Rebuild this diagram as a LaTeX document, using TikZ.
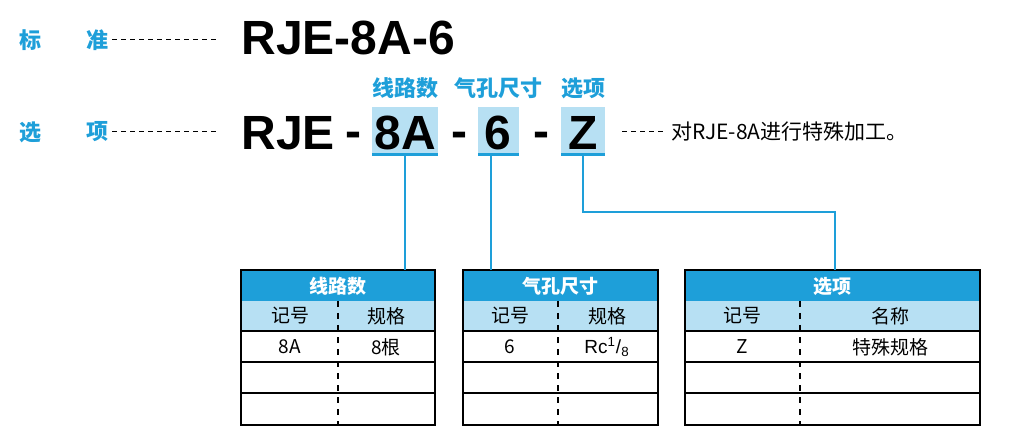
\documentclass[tikz,border=0pt]{standalone}
\usepackage{fontspec}
\setmainfont{Liberation Sans}
\newfontfamily\cjk{Noto Sans CJK SC}
\definecolor{skyblue}{HTML}{1E9FD9}
\definecolor{paleblue}{HTML}{B7E0F3}
\tikzset{
  lbl/.style={font=\cjk\bfseries\fontsize{11}{13}\selectfont,text=skyblue,inner sep=0pt},
  code/.style={font=\bfseries\fontsize{24}{27}\selectfont,inner sep=0pt},
  cell/.style={font=\cjk\fontsize{9.5}{11}\selectfont,inner sep=0pt},
  link/.style={skyblue,line width=1.2pt},
  lead/.style={dash pattern=on 2.5pt off 2pt,line width=0.5pt}
}
% one table: x0, x1, divider, name
\newcommand{\spectable}[5]{%
  \fill[skyblue] (#1,270) rectangle (#2,301);
  \fill[paleblue] (#1,301) rectangle (#2,331);
  \foreach \y in {331,362,393}
    \draw[line width=0.6pt] (#1,\y) -- (#2,\y);
  \draw[line width=0.8pt] (#1,270) rectangle (#2,425);
  \draw[dashed,line width=0.6pt] (#3,301) -- (#3,425);
  \node[cell,font=\cjk\bfseries\fontsize{9.5}{11}\selectfont,text=white] (#4) at ({(#1+#2)/2},286) {#5};
}
\begin{document}
\begin{tikzpicture}[x=0.5pt,y=-0.5pt]
\useasboundingbox (0,0) rectangle (1021,432);
% standard line
\node[lbl] (std1) at (30,40) {标};
\node[lbl] (std2) at (97,40) {准};
\draw[lead] (112,40) -- (218,40);
\node[code,anchor=west] (std) at (241,38) {RJE-8A-6};
% option line
\node[lbl] (opt1) at (30,132) {选};
\node[lbl] (opt2) at (97,132) {项};
\draw[lead] (112,132) -- (218,132);
\node[code,anchor=west] (rje) at (241,133) {RJE};
\node[code] (d1) at (353,140) {-};
\fill[paleblue] (372,107) rectangle (438,155);
\draw[skyblue,line width=1.5pt] (372,155) -- (438,155);
\node[code] (wires) at (405,133) {8A};
\node[code] (d2) at (459,140) {-};
\fill[paleblue] (478,107) rectangle (519,155);
\draw[skyblue,line width=1.5pt] (478,155) -- (519,155);
\node[code] (port) at (498,133) {6};
\node[code] (d3) at (541,140) {-};
\fill[paleblue] (561,107) rectangle (605,155);
\draw[skyblue,line width=1.5pt] (561,155) -- (605,155);
\node[code] (extra) at (583,133) {Z};
% headings
\node[lbl] (h1) at (405,88) {线路数};
\node[lbl] (h2) at (498,88) {气孔尺寸};
\node[lbl] (h3) at (583,88) {选项};
\draw[lead] (622,132) -- (666,132);
\node[cell,font=\cjk\fontsize{10.5}{12}\selectfont,anchor=west] (note) at (671,132) {对RJE-8A进行特殊加工。};
% tables
\spectable{241}{435}{338}{t1}{线路数}
\spectable{463}{658}{558}{t2}{气孔尺寸}
\spectable{685}{980}{800}{t3}{选项}
\foreach \x in {290,510,742}
  \node[cell] at (\x,316) {记号};
\node[cell] (c1) at (386,316) {规格};
\node[cell] (c2) at (607,316) {规格};
\node[cell] (c3) at (890,316) {名称};
\node[cell] (v1) at (290,347) {8A};
\node[cell] (v2) at (386,347) {8根};
\node[cell] (v3) at (510,347) {6};
\node[cell,font=\fontsize{9.5}{11}\selectfont] (v4) at (607,347) {Rc\textsuperscript{1}/\textsubscript{8}};
\node[cell] (v5) at (742,347) {Z};
\node[cell] (v6) at (890,347) {特殊规格};
% connectors
\coordinate (bend1) at (583,212);
\coordinate (bend2) at (835,212);
\draw[link] (405,156) -- (405,270);
\draw[link] (491,156) -- (491,270);
\draw[link] (583,156) -- (bend1) -- (bend2) -- (835,270);
\end{tikzpicture}
\end{document}
